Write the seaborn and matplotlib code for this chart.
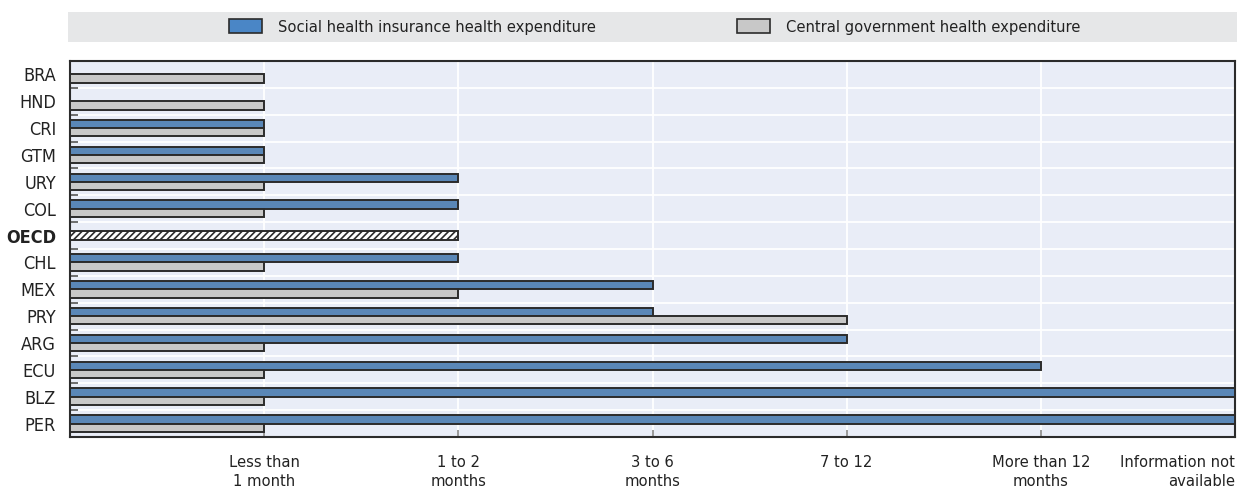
import numpy as np
import pandas as pd
import matplotlib
matplotlib.use("Agg")
import matplotlib.pyplot as plt
from matplotlib.patches import Patch, Rectangle
import seaborn as sns

# Time lag categories (1 = less than 1 month ... 6 = information not available)
countries = ["BRA", "HND", "CRI", "GTM", "URY", "COL", "OECD",
             "CHL", "MEX", "PRY", "ARG", "ECU", "BLZ", "PER"]
social_insurance = [np.nan, np.nan, 1, 1, 2, 2, np.nan, 2, 3, 3, 4, 5, 6, 6]
central_gov = [1, 1, 1, 1, 1, 1, np.nan, 1, 2, 4, 1, 1, 1, 1]
oecd_value = [2]
tick_labels = ["Less than\n1 month", "1 to 2\nmonths", "3 to 6\nmonths",
               "7 to 12", "More than 12\nmonths", "Information not\navailable"]
series_names = ["Social health insurance health expenditure",
                "Central government health expenditure"]

sns.set_style("white")
plt.rcParams["font.family"] = ["DejaVu Sans"]
plt.rcParams["font.stretch"] = "condensed"
plt.rcParams["hatch.linewidth"] = 1.2

blue = "#4A86C6"
grey = "#C8C8C8"
edge = "#2B2B2B"

df = pd.DataFrame({
    "country": countries * 2,
    "value": social_insurance + central_gov,
    "series": [series_names[0]] * len(countries) + [series_names[1]] * len(countries),
})

fig = plt.figure(figsize=(12.37, 4.94), dpi=100)
ax = fig.add_axes([70 / 1237, 57 / 494, 1165 / 1237, 376 / 494])
ax.set_facecolor("#E9EDF7")

sns.barplot(data=df, x="value", y="country", hue="series", order=countries,
            hue_order=series_names, palette=[blue, grey], orient="h",
            width=0.62, dodge=True, edgecolor=edge, linewidth=1.4,
            legend=False, ax=ax, zorder=3)
sns.barplot(x=oecd_value, y=["OECD"], order=countries, orient="h", width=0.31,
            color="white", edgecolor=edge, linewidth=1.4, hatch="/////",
            ax=ax, zorder=3)

ax.set_xlim(0, 6)
ax.set_ylim(len(countries) - 0.5, -0.5)
ax.set_xlabel("")
ax.set_ylabel("")

# X axis: category ticks
ax.set_xticks(range(1, 7))
ax.set_xticklabels(tick_labels, fontsize=11.8, color="#222222", linespacing=1.3)
last = ax.get_xticklabels()[-1]
last.set_horizontalalignment("right")
last.set_multialignment("right")
ax.tick_params(axis="x", bottom=True, direction="in", length=5, width=1.2,
               color="#888888", pad=13)
ax.grid(axis="x", color="white", linewidth=1.3, zorder=0)

# Y axis: labels at row centres, short marks and white lines between rows
ax.set_yticks(range(len(countries)))
ax.set_yticklabels(countries, fontsize=13, color="#222222")
ax.tick_params(axis="y", which="major", left=False, length=0, pad=10)
for lbl in ax.get_yticklabels():
    if lbl.get_text() == "OECD":
        lbl.set_fontweight("bold")
ax.set_yticks(np.arange(0.5, len(countries) - 0.5, 1), minor=True)
ax.tick_params(axis="y", which="minor", left=True, direction="in", length=6,
               width=1.2, color="#555555")
ax.grid(axis="y", which="minor", color="white", linewidth=1.3, zorder=0)
ax.set_axisbelow(True)

for s in ax.spines.values():
    s.set_visible(True)
    s.set_color("#2B2B2B")
    s.set_linewidth(1.5)

# Legend band across the top
fig.patches.append(Rectangle((68 / 1237, 452 / 494), 1169 / 1237, 30 / 494,
                             transform=fig.transFigure, facecolor="#E6E7E8",
                             edgecolor="none", zorder=0))
handles = [Patch(facecolor=blue, edgecolor=edge, linewidth=1.2),
           Patch(facecolor=grey, edgecolor=edge, linewidth=1.2)]
fig.legend(handles, series_names, loc="center", ncol=2, frameon=False,
           bbox_to_anchor=(655 / 1237, 467 / 494), fontsize=11.8,
           handlelength=2.0, handleheight=0.9, handletextpad=1.0,
           columnspacing=8.6, labelcolor="#222222")

fig.savefig("out.png", dpi=100)
